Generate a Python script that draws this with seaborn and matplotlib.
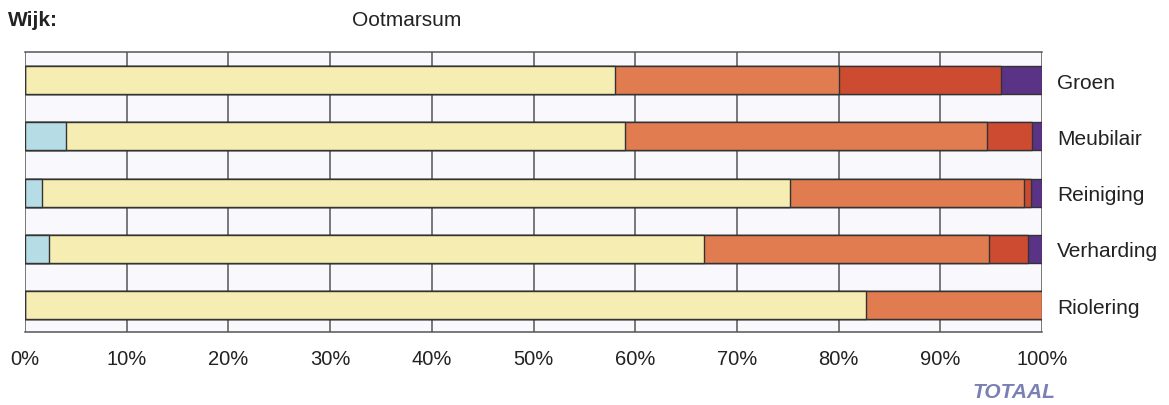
import matplotlib
matplotlib.use("Agg")
import matplotlib.pyplot as plt
import seaborn as sns
import pandas as pd
import numpy as np

categories = ["Groen", "Meubilair", "Reiniging", "Verharding", "Riolering"]
blue = [0.0, 4.0, 1.7, 2.4, 0.0]
yellow = [58.0, 55.0, 73.5, 64.4, 82.7]
orange = [22.0, 35.6, 23.0, 28.0, 17.3]
darkred = [16.0, 4.4, 0.7, 3.8, 0.0]
purple = [4.0, 1.0, 1.1, 1.4, 0.0]
tick_labels = ["0%", "10%", "20%", "30%", "40%", "50%", "60%", "70%", "80%", "90%", "100%"]

series = [blue, yellow, orange, darkred, purple]
colors = ["#b6dce5", "#f6edb2", "#e17b50", "#cd4b31", "#5a3286"]

sns.set_style("white")
plt.rcParams["font.family"] = ["Liberation Sans", "DejaVu Sans"]

fig = plt.figure(figsize=(11.69, 4.06), dpi=100)
ax = fig.add_axes([25 / 1169, 1 - 333 / 406, (1042 - 25) / 1169, (333 - 53) / 406])
ax.set_facecolor("#f9f8fc")

cum = np.cumsum(np.array(series), axis=0)
# draw from the last cumulative down so earlier segments overlay
for i in range(len(series) - 1, -1, -1):
    df = pd.DataFrame({"cat": categories, "val": cum[i]})
    sns.barplot(data=df, x="val", y="cat", order=categories, orient="h",
                color=colors[i], saturation=1, width=0.5,
                edgecolor="#333333", linewidth=1.0, ax=ax, zorder=3)

ax.set_xlim(0, 100)
ax.set_ylim(4.48, -0.5)
ax.set_xticks(np.arange(0, 101, 10))
ax.set_xticklabels(tick_labels, fontsize=14.5, color="#222222")
ax.xaxis.grid(True, color="#555555", linewidth=1.1, zorder=0)
ax.set_axisbelow(True)
ax.yaxis.tick_right()
ax.tick_params(axis="y", length=0, pad=11, labelsize=15, labelcolor="#222222")
ax.tick_params(axis="x", length=0, pad=12)
ax.set_xlabel("")
ax.set_ylabel("")
for s in ["top", "bottom"]:
    ax.spines[s].set_color("#555555")
    ax.spines[s].set_linewidth(1.1)
for s in ["left", "right"]:
    ax.spines[s].set_visible(False)

fig.text(8 / 1169, 1 - 20 / 406, "Wijk:", fontsize=15, fontweight="bold",
         color="#222222", va="center", ha="left")
fig.text(352 / 1169, 1 - 20 / 406, "Ootmarsum", fontsize=15,
         color="#222222", va="center", ha="left")
fig.text(1014 / 1169, 1 - 393 / 406, "TOTAAL", fontsize=15, fontweight="bold",
         fontstyle="italic", color="#7b80b4", va="center", ha="center")

fig.savefig("out.png", dpi=100)
